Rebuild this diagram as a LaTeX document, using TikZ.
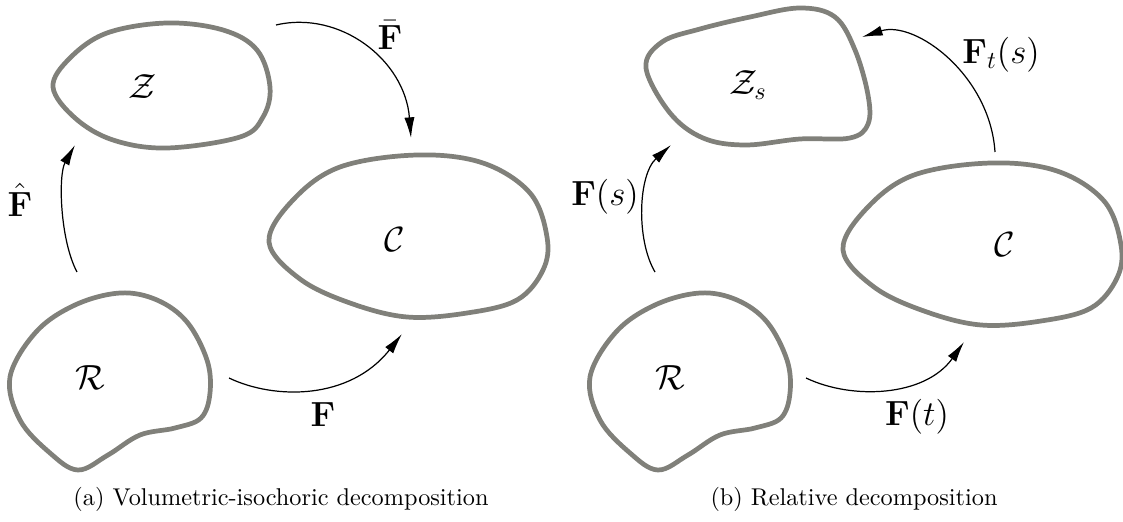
\documentclass[tikz,border=0pt]{standalone}
\usetikzlibrary{arrows.meta}
\definecolor{blobgray}{RGB}{128,128,122}
\begin{document}
\begin{tikzpicture}[x=0.412pt,y=-0.412pt,
  blob/.style={draw=blobgray,line width=1.95pt},
  map/.style={draw=black,line width=0.5pt,-{Latex[length=8.5pt,width=4.2pt]}},
  lbl/.style={inner sep=0pt,font=\fontsize{14}{17}\selectfont},
  captext/.style={inner sep=0pt,font=\fontsize{10}{12}\selectfont,anchor=base}]
\useasboundingbox (0,0) rectangle (1123,522);
% ---------- (a) ----------
\draw[blob] plot[smooth cycle,tension=0.6] coordinates {
 (53,87) (70,58) (107,33) (167,23) (223,30) (257,50) (270,87) (263,117) (240,137) (167,148) (113,140) (75,118)};
\draw[blob] plot[smooth cycle,tension=0.6] coordinates {
 (417,155) (340,167) (293,200) (269,242) (300,279) (350,303) (407,317) (467,313) (517,300) (543,270) (547,237) (530,193) (483,163)};
\draw[blob] plot[smooth cycle,tension=0.6] coordinates {
 (120,293) (75,305) (36,332) (10,377) (20,420) (50,453) (78,470) (108,455) (140,435) (175,428) (201,418) (210,393) (207,360) (187,322) (157,300)};
\node[lbl] (Za) at (143,87) {$\mathcal{Z}$};
\node[lbl] (Ca) at (395,240) {$\mathcal{C}$};
\node[lbl] (Ra) at (90,378) {$\mathcal{R}$};
\coordinate (a1s) at (276,25); \coordinate (a1e) at (411,138);
\coordinate (a2s) at (77,272); \coordinate (a2e) at (75,145);
\coordinate (a3s) at (229,378); \coordinate (a3e) at (402,334);
\draw[map] (a1s) .. controls (340,10) and (405,60) .. (a1e);
\draw[map] (a2s) .. controls (60,240) and (58,175) .. (a2e);
\draw[map] (a3s) .. controls (275,400) and (350,400) .. (a3e);
\node[lbl] (Fbar) at (390,35) {$\bar{\mathbf{F}}$};
\node[lbl] (Fhat) at (20,200) {$\hat{\mathbf{F}}$};
\node[lbl] (Fa) at (323,415) {$\mathbf{F}$};
\node[captext] (capa) at (281,505) {(a) Volumetric-isochoric decomposition};
% ---------- (b) ----------
\draw[blob] plot[smooth cycle,tension=0.6] coordinates {
 (646,68) (662,42) (700,29) (750,17) (800,8) (835,17) (855,50) (868,95) (868,124) (850,138) (800,139) (745,145) (703,138) (670,113)};
\begin{scope}[shift={(574,8)}]
\draw[blob] plot[smooth cycle,tension=0.6] coordinates {
 (417,155) (340,167) (293,200) (269,242) (300,279) (350,303) (407,317) (467,313) (517,300) (543,270) (547,237) (530,193) (483,163)};
\end{scope}
\begin{scope}[shift={(580,0)}]
\draw[blob] plot[smooth cycle,tension=0.6] coordinates {
 (120,293) (75,305) (36,332) (10,377) (20,420) (50,453) (78,470) (108,455) (140,435) (175,428) (201,418) (210,393) (207,360) (187,322) (157,300)};
\end{scope}
\node[lbl] (Zb) at (748,85) {$\mathcal{Z}_s$};
\node[lbl] (Cb) at (1005,245) {$\mathcal{C}$};
\node[lbl] (Rb) at (670,378) {$\mathcal{R}$};
\coordinate (b1s) at (995,152); \coordinate (b1e) at (862,37);
\coordinate (b2s) at (655,272); \coordinate (b2e) at (671,145);
\coordinate (b3s) at (806,378); \coordinate (b3e) at (964,342);
\draw[map] (b1s) .. controls (990,75) and (915,20) .. (b1e);
\draw[map] (b2s) .. controls (636,240) and (638,175) .. (b2e);
\draw[map] (b3s) .. controls (852,400) and (925,397) .. (b3e);
\node[lbl] (Fts) at (1001,55) {$\mathbf{F}_t(s)$};
\node[lbl] (Fs) at (605,197) {$\mathbf{F}(s)$};
\node[lbl] (Ft) at (917,417) {$\mathbf{F}(t)$};
\node[captext] (capb) at (854,505) {(b) Relative decomposition};
\end{tikzpicture}
\end{document}
